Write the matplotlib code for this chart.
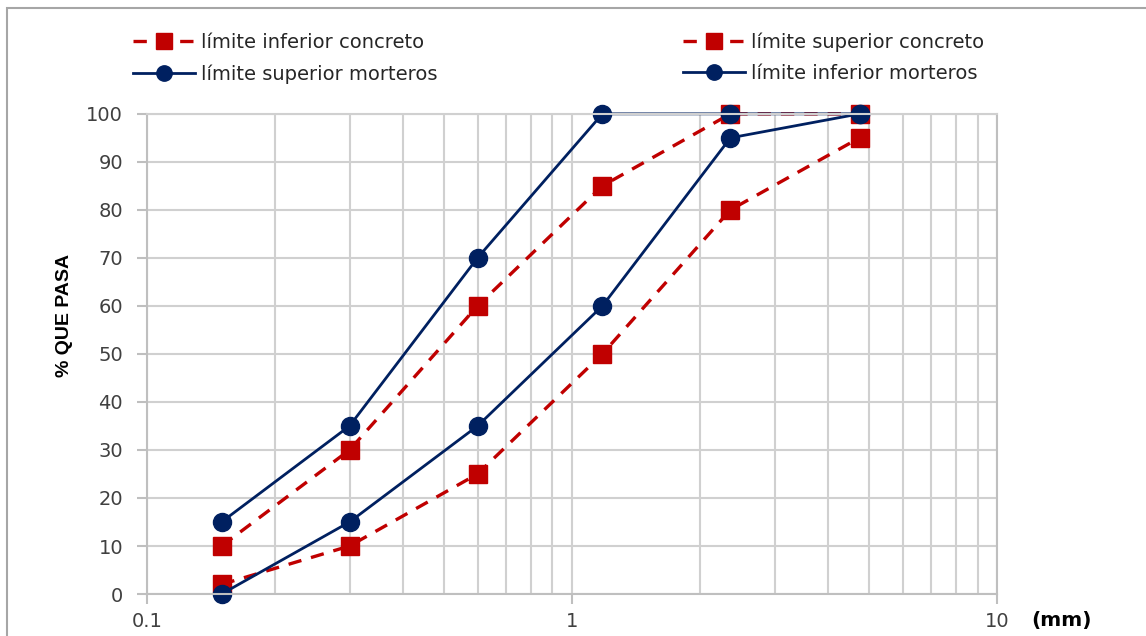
import matplotlib
matplotlib.use('Agg')
import matplotlib.pyplot as plt
from matplotlib.patches import Rectangle
from matplotlib.ticker import FixedLocator, NullFormatter

plt.rcParams['font.family'] = ['DejaVu Sans']

# sieve openings (mm)
tamiz = [0.15, 0.3, 0.6, 1.18, 2.36, 4.75]

inf_concreto = [2, 10, 25, 50, 80, 95]
sup_concreto = [10, 30, 60, 85, 100, 100]
sup_morteros = [15, 35, 70, 100, 100, 100]
inf_morteros = [0, 15, 35, 60, 95, 100]

x_ticks = [0.1, 1, 10]
x_tick_labels = ['0.1', '1', '10']
y_ticks = list(range(0, 101, 10))

red = '#C00000'
navy = '#002060'
grid_c = '#D0D0D0'

fig = plt.figure(figsize=(11.46, 6.36), dpi=100)
ax = fig.add_axes([0.128, 0.066, 0.742, 0.755])

# outer chart border
fig.patches.append(Rectangle((0.006, -0.05), 1.2, 1.037, transform=fig.transFigure,
                             fill=False, edgecolor='#A6A6A6', linewidth=1.5))

red_kw = dict(color=red, linestyle=(0, (4, 3)), linewidth=2.4, marker='s',
              markersize=13, markerfacecolor=red, markeredgecolor=red)
navy_kw = dict(color=navy, linestyle='-', linewidth=2.0, marker='o',
               markersize=13, markerfacecolor=navy, markeredgecolor=navy)

l1, = ax.plot(tamiz, inf_concreto, label='límite inferior concreto', **red_kw)
l2, = ax.plot(tamiz, sup_concreto, label='límite superior concreto', **red_kw)
l3, = ax.plot(tamiz, sup_morteros, label='límite superior morteros', **navy_kw)
l4, = ax.plot(tamiz, inf_morteros, label='límite inferior morteros', **navy_kw)
for ln in (l1, l2, l3, l4):
    ln.set_clip_on(False)

ax.set_xscale('log')
ax.set_xlim(0.1, 10)
ax.set_ylim(0, 100)
ax.xaxis.set_major_locator(FixedLocator(x_ticks))
ax.set_xticklabels(x_tick_labels)
ax.xaxis.set_minor_locator(FixedLocator([m * d for d in (0.1, 1) for m in range(2, 10)]))
ax.xaxis.set_minor_formatter(NullFormatter())
ax.set_yticks(y_ticks)

ax.grid(True, which='both', axis='x', color=grid_c, linewidth=1.5)
ax.grid(True, which='major', axis='y', color=grid_c, linewidth=1.5)
ax.set_axisbelow(True)
for s in ax.spines.values():
    s.set_color('#BFBFBF')
    s.set_linewidth(1.5)
ax.spines['top'].set_color(grid_c)

ax.tick_params(axis='both', which='major', length=7, width=1.5, color='#BFBFBF',
               labelsize=14, labelcolor='#404040')
ax.tick_params(axis='x', which='minor', length=0)
ax.tick_params(axis='x', pad=6)
ax.tick_params(axis='y', pad=10)

ax.set_ylabel('% QUE PASA', fontsize=14, fontweight='bold', family='Liberation Sans')
ax.yaxis.set_label_coords(-0.087, 0.58)
fig.text(0.9, 0.025, '(mm)', fontsize=14.5, fontweight='bold', ha='left', va='center')

fig.legend([l1, l3, l2, l4], [l1.get_label(), l3.get_label(), l2.get_label(), l4.get_label()],
           ncol=2, loc='upper left', bbox_to_anchor=(0.101, 0.977), frameon=False,
           fontsize=14, handlelength=3.2, handletextpad=0.3, columnspacing=12.6,
           labelspacing=0.65, markerscale=0.85, labelcolor='#262626')

fig.savefig('out.png', dpi=100)
